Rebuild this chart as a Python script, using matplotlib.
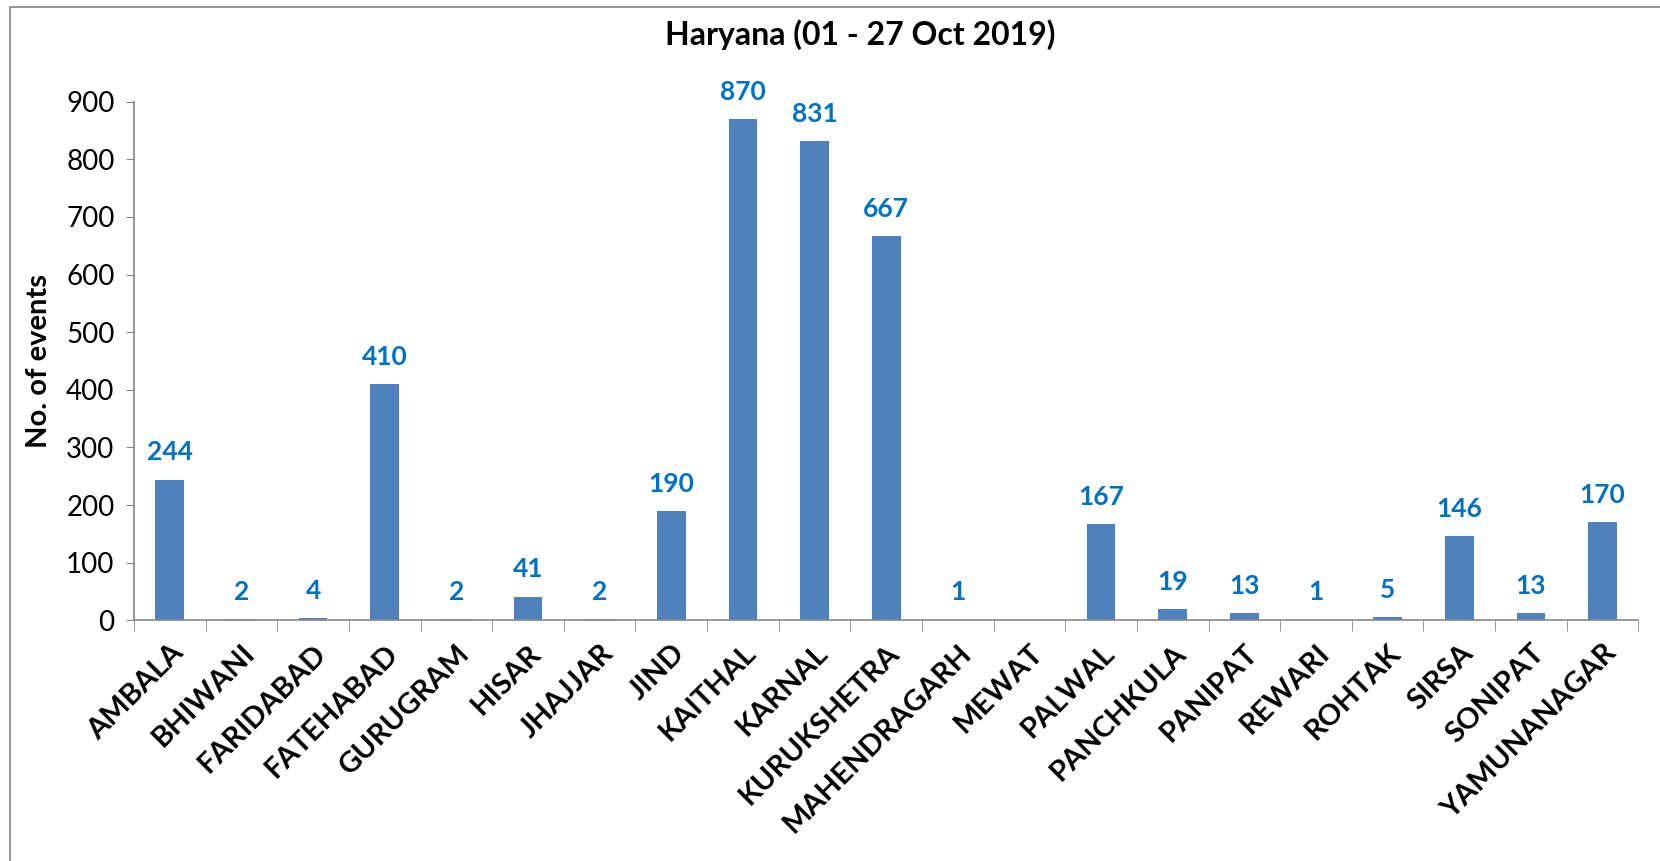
import matplotlib.pyplot as plt
from matplotlib.patches import Rectangle

# Данные
districts = ['AMBALA', 'BHIWANI', 'FARIDABAD', 'FATEHABAD', 'GURUGRAM', 'HISAR',
             'JHAJJAR', 'JIND', 'KAITHAL', 'KARNAL', 'KURUKSHETRA', 'MAHENDRAGARH',
             'MEWAT', 'PALWAL', 'PANCHKULA', 'PANIPAT', 'REWARI', 'ROHTAK', 'SIRSA',
             'SONIPAT', 'YAMUNANAGAR']
events = [244, 2, 4, 410, 2, 41, 2, 190, 870, 831, 667, 1, 0, 167, 19, 13, 1, 5, 146, 13, 170]

plt.rcParams['font.family'] = ['Lato', 'DejaVu Sans']

fig = plt.figure(figsize=(16.6, 8.61), dpi=100)
ax = fig.add_axes([0.0807, 0.2795, 0.9063, 0.6025])

x = range(len(districts))
bars = ax.bar(x, events, width=0.4, color='#4F81BD')

# подписи значений над столбцами
for xi, v in zip(x, events):
    if v > 0:
        ax.annotate(str(v), (xi, v), xytext=(0, 11), textcoords='offset points',
                    ha='center', va='bottom', fontsize=19, fontweight='bold', color='#0070C0')

ax.set_xlim(-0.5, len(districts) - 0.5)
ax.set_ylim(0, 900)
ax.set_yticks(range(0, 901, 100))
ax.tick_params(axis='y', labelsize=20, length=6, color='#868686', pad=8)

ax.set_xticks(x)
ax.set_xticklabels(districts, rotation=45, ha='right', rotation_mode='anchor',
                   fontsize=21, fontweight='bold')
ax.tick_params(axis='x', length=0, pad=14)
# тики между категориями
ax.set_xticks([i - 0.5 for i in range(len(districts) + 1)], minor=True)
ax.tick_params(axis='x', which='minor', length=8, color='#868686')

for s in ['top', 'right']:
    ax.spines[s].set_visible(False)
for s in ['left', 'bottom']:
    ax.spines[s].set_color('#868686')
    ax.spines[s].set_linewidth(1.2)

ax.set_ylabel('No. of events', fontsize=21, fontweight='bold', labelpad=10)
fig.text(0.518, 0.96, 'Haryana (01 - 27 Oct 2019)', ha='center', va='center',
         fontsize=23, fontweight='bold')

# рамка диаграммы
fig.patches.append(Rectangle((10 / 1660, -0.05), 1.1, 1 - 7 / 861 + 0.05,
                             transform=fig.transFigure, fill=False,
                             edgecolor='#868686', linewidth=1.2))

plt.savefig('out.png')
